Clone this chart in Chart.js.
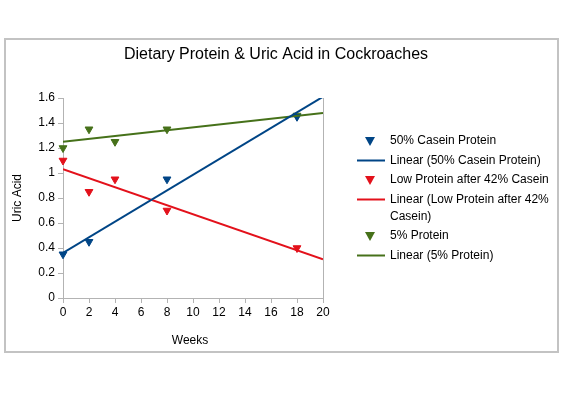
<!DOCTYPE html>
<html>
<head>
<meta charset="utf-8">
<script src="https://cdn.jsdelivr.net/npm/chart.js@4.4.1/dist/chart.umd.min.js"></script>
<style>
  html, body { margin: 0; padding: 0; background: #fff; }
  #wrap { width: 563px; height: 395px; position: relative; }
</style>
</head>
<body>
<div id="wrap"><canvas id="c" width="563" height="395"></canvas></div>
<script>
// weeks and measured uric acid values
const casein50Weeks = [0, 2, 8, 18];
const casein50Values = [0.35, 0.45, 0.95, 1.45];
const lowProteinWeeks = [0, 2, 4, 8, 18];
const lowProteinValues = [1.1, 0.85, 0.95, 0.7, 0.4];
const protein5Weeks = [0, 2, 4, 8, 18];
const protein5Values = [1.2, 1.35, 1.25, 1.35, 1.46];

// trend line ends, read at week 0 and week 20
const trendWeeks = [0, 20];
const casein50Trend = [0.36, 1.61];
const lowProteinTrend = [1.03, 0.31];
const protein5Trend = [1.25, 1.48];

const xTicks = [0, 2, 4, 6, 8, 10, 12, 14, 16, 18, 20];
const yTicks = [0, 0.2, 0.4, 0.6, 0.8, 1, 1.2, 1.4, 1.6];

const BLUE = '#004586';
const RED = '#e3111b';
const GREEN = '#46711a';
const AXIS = '#b3b3b3';
const FONT = '"Liberation Sans", Arial, sans-serif';

const pts = (xs, ys) => xs.map((x, i) => ({ x: x, y: ys[i] }));

function scatterSet(label, xs, ys, color) {
  return {
    label: label, type: 'scatter', data: pts(xs, ys), clip: false,
    pointStyle: 'triangle', rotation: 180, radius: 4.5, hoverRadius: 4.5,
    backgroundColor: color, borderColor: color, borderWidth: 1, order: 2
  };
}
function trendSet(label, ys, color) {
  return {
    label: label, type: 'line', data: pts(trendWeeks, ys),
    borderColor: color, borderWidth: 2, pointRadius: 0, fill: false, order: 1
  };
}

const legendItems = [
  { kind: 'pt', color: BLUE, lines: ['50% Casein Protein'] },
  { kind: 'ln', color: BLUE, lines: ['Linear (50% Casein Protein)'] },
  { kind: 'pt', color: RED, lines: ['Low Protein after 42% Casein'] },
  { kind: 'ln', color: RED, lines: ['Linear (Low Protein after 42%', 'Casein)'] },
  { kind: 'pt', color: GREEN, lines: ['5% Protein'] },
  { kind: 'ln', color: GREEN, lines: ['Linear (5% Protein)'] }
];

const decor = {
  id: 'decor',
  beforeDraw(chart) {
    const ctx = chart.ctx;
    ctx.save();
    ctx.strokeStyle = '#c3c3c3';
    ctx.lineWidth = 2;
    ctx.strokeRect(5, 39, 553, 313);
    ctx.restore();
  },
  afterDraw(chart) {
    const ctx = chart.ctx;
    const a = chart.chartArea;
    ctx.save();
    // right frame line of the plot
    ctx.strokeStyle = AXIS;
    ctx.lineWidth = 1;
    ctx.beginPath();
    ctx.moveTo(Math.round(a.right) + 0.5, a.top);
    ctx.lineTo(Math.round(a.right) + 0.5, a.bottom);
    ctx.stroke();

    ctx.fillStyle = '#000';
    ctx.textAlign = 'center';
    ctx.textBaseline = 'middle';
    ctx.font = '16px ' + FONT;
    ctx.fillText('Dietary Protein & Uric Acid in Cockroaches', 276, 55);

    ctx.font = '12px ' + FONT;
    ctx.fillText('Weeks', 190, 341);
    ctx.save();
    ctx.translate(18, 198);
    ctx.rotate(-Math.PI / 2);
    ctx.fillText('Uric Acid', 0, 0);
    ctx.restore();

    // legend
    ctx.textAlign = 'left';
    let y = 141;
    legendItems.forEach(it => {
      ctx.fillStyle = it.color;
      ctx.strokeStyle = it.color;
      if (it.kind === 'pt') {
        ctx.beginPath();
        ctx.moveTo(365, y - 4);
        ctx.lineTo(375, y - 4);
        ctx.lineTo(370, y + 5);
        ctx.closePath();
        ctx.fill();
      } else {
        ctx.lineWidth = 2;
        ctx.beginPath();
        ctx.moveTo(357, y);
        ctx.lineTo(385, y);
        ctx.stroke();
      }
      ctx.fillStyle = '#000';
      it.lines.forEach((t, i) => ctx.fillText(t, 390, y + i * 17));
      y += 19.5 + (it.lines.length - 1) * 17;
    });
    ctx.restore();
  }
};

new Chart(document.getElementById('c'), {
  data: {
    datasets: [
      scatterSet('50% Casein Protein', casein50Weeks, casein50Values, BLUE),
      trendSet('Linear (50% Casein Protein)', casein50Trend, BLUE),
      scatterSet('Low Protein after 42% Casein', lowProteinWeeks, lowProteinValues, RED),
      trendSet('Linear (Low Protein after 42% Casein)', lowProteinTrend, RED),
      scatterSet('5% Protein', protein5Weeks, protein5Values, GREEN),
      trendSet('Linear (5% Protein)', protein5Trend, GREEN)
    ]
  },
  options: {
    responsive: false,
    animation: false,
    events: [],
    layout: { padding: { left: 0, top: 98, right: 240, bottom: 0 } },
    plugins: { legend: { display: false }, title: { display: false }, tooltip: { enabled: false } },
    scales: {
      x: {
        type: 'linear', min: 0, max: 20,
        afterBuildTicks: s => { s.ticks = xTicks.map(v => ({ value: v })); },
        afterFit: s => { s.height = 97; },
        grid: { display: true, drawOnChartArea: false, drawTicks: true, tickLength: 5, color: AXIS },
        border: { color: AXIS, width: 1 },
        ticks: { color: '#000', font: { family: FONT, size: 12 }, padding: 2, maxRotation: 0, autoSkip: false,
          callback: v => String(v) }
      },
      y: {
        type: 'linear', min: 0, max: 1.6,
        afterBuildTicks: s => { s.ticks = yTicks.map(v => ({ value: v })); },
        afterFit: s => { s.width = 63; },
        grid: { display: true, drawOnChartArea: false, drawTicks: true, tickLength: 5, color: AXIS },
        border: { color: AXIS, width: 1 },
        ticks: { color: '#000', font: { family: FONT, size: 12 }, padding: 3, autoSkip: false,
          callback: v => String(Math.round(v * 10) / 10) }
      }
    }
  },
  plugins: [decor]
});
</script>
</body>
</html>
